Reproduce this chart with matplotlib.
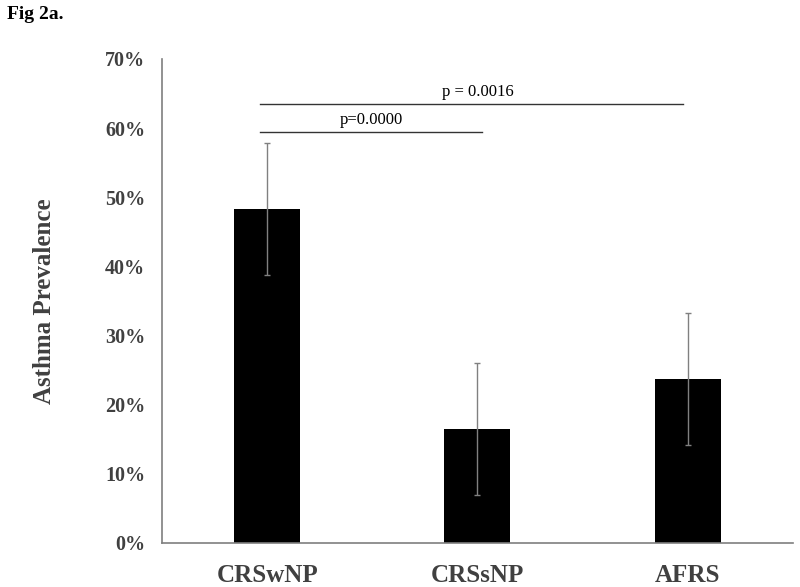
import numpy as np
import matplotlib.pyplot as plt
from matplotlib.ticker import PercentFormatter

# Asthma prevalence by group (fractions) and error half-widths
groups = ['CRSwNP', 'CRSsNP', 'AFRS']
prevalence = [0.483, 0.165, 0.237]
err = [0.096, 0.096, 0.096]

# pairwise comparisons: (group a, group b, line height, label)
comp_a = [0, 0]
comp_b = [1, 2]
comp_y = [0.594, 0.635]
comp_text = ['p=0.0000', 'p = 0.0016']

plt.rcParams['font.family'] = ['Liberation Serif', 'DejaVu Serif']

fig = plt.figure(figsize=(8, 5.87), dpi=100)
ax = fig.add_axes([0.2025, 0.075, 0.7885, 0.8245])

x = np.arange(len(groups))
ax.bar(x, prevalence, width=0.314, color='black', zorder=2)
ax.errorbar(x, prevalence, yerr=err, fmt='none', ecolor='#808080',
            elinewidth=1.0, capsize=2, capthick=1.0, zorder=3)

# significance lines
for a, b, y, t in zip(comp_a, comp_b, comp_y, comp_text):
    x0 = a - 0.033
    x1 = b + 0.02 if b == 1 else b - 0.02
    ax.plot([x0, x1], [y, y], color='#333333', lw=1.0, clip_on=False)
    ax.text((x0 + x1) / 2 + (0.03 if b == 2 else 0.0), y + 0.006, t,
            ha='center', va='bottom', fontsize=12, color='black')

ax.set_xlim(-0.5, 2.5)
ax.set_ylim(0, 0.7)
ax.set_yticks(np.arange(0, 0.71, 0.1))
ax.yaxis.set_major_formatter(PercentFormatter(1.0, decimals=0))
ax.set_xticks(x)
ax.set_xticklabels(groups)

for s in ['top', 'right']:
    ax.spines[s].set_visible(False)
for s in ['left', 'bottom']:
    ax.spines[s].set_color('#7f7f7f')
    ax.spines[s].set_linewidth(1.2)

ax.tick_params(axis='y', length=0, pad=12, labelsize=14.5, labelcolor='#404040')
ax.tick_params(axis='x', length=0, pad=15, labelsize=18, labelcolor='#404040')
for lbl in ax.get_yticklabels() + ax.get_xticklabels():
    lbl.set_fontweight('bold')

ax.set_ylabel('Asthma Prevalence', fontsize=18, fontweight='bold',
              color='#404040', labelpad=35)

fig.text(0.009, 0.976, 'Fig 2a.', fontsize=14, fontweight='bold',
         ha='left', va='center')

fig.savefig('out.png', dpi=100)
